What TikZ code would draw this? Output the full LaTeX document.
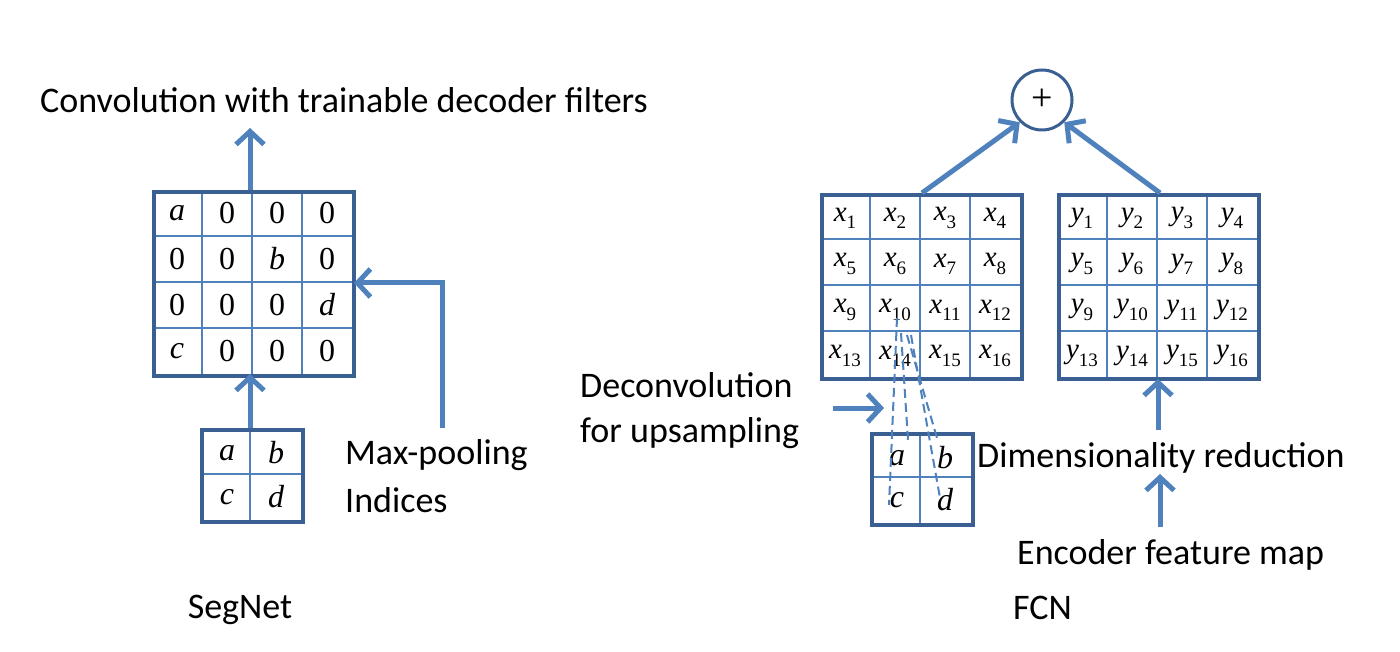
\documentclass[tikz,border=0pt]{standalone}
\usepackage{fontspec}
\setmainfont{Carlito}
\newfontfamily\cellf{Liberation Serif}
\usetikzlibrary{arrows.meta}
\definecolor{bord}{HTML}{3A5F93}
\definecolor{inner}{HTML}{4F81BD}
\newcommand{\vv}[1]{{\cellf\itshape #1}}
\newcommand{\zz}{{\cellf 0}}
\newcommand{\sv}[2]{{\cellf\itshape #1\raisebox{-0.25em}{\fontsize{19}{20}\selectfont\upshape #2}}}
\begin{document}
\begin{tikzpicture}[x=1pt,y=-1pt,
  lbl/.style={font=\fontsize{36}{38}\selectfont,inner sep=0pt},
  cell/.style={font=\fontsize{32}{34}\selectfont,inner sep=0pt},
  scell/.style={font=\fontsize{29}{30}\selectfont,inner sep=0pt},
  grid/.style={draw=bord,line width=4pt},
  thin/.style={draw=inner,line width=1.3pt},
  arr/.style={draw=inner,line width=5pt,-{Straight Barb[length=13pt,width=28pt,line width=5pt]}},
  dsh/.style={draw=inner,line width=2pt,dash pattern=on 9pt off 5pt}]
\useasboundingbox (0,0) rectangle (1400,652);
% SegNet big grid
\foreach \i in {1,2,3} {\draw[thin] (152+50*\i,190) -- (152+50*\i,374); \draw[thin] (152,190+46*\i) -- (352,190+46*\i);}
\node[grid,minimum width=200pt,minimum height=184pt,anchor=north west] (G) at (152,190) {};
\foreach \r/\row in {0/{\vv{a},\zz,\zz,\zz},1/{\zz,\zz,\vv{b},\zz},2/{\zz,\zz,\zz,\vv{d}},3/{\vv{c},\zz,\zz,\zz}} {
  \foreach \v [count=\c from 0] in \row {\node[cell] (g\r\c) at (177+50*\c,213+46*\r) {\v};}}
% SegNet small grid
\draw[thin] (250,428) -- (250,520); \draw[thin] (200,474) -- (301,474);
\node[grid,minimum width=101pt,minimum height=92pt,anchor=north west] (S) at (200,428) {};
\node[cell] (sa) at (227,453) {\vv{a}}; \node[cell] (sb) at (276,453) {\vv{b}};
\node[cell] (sc) at (227,497) {\vv{c}}; \node[cell] (sd) at (276,497) {\vv{d}};
\coordinate (gt) at (250,190);
\coordinate (gb) at (250,374);
\coordinate (st) at (250,428);
\coordinate (ct) at (250,128);
\draw[arr] (gt) -- (ct);
\draw[arr] (st) -- (gb);
\node[lbl,anchor=west] (conv) at (40,100) {Convolution with trainable decoder filters};
\node[lbl,anchor=west] (mp) at (345,455) {Max-pooling};
\node[lbl,anchor=west] (ind) at (345,500) {Indices};
\coordinate (mpb) at (442,428);
\draw[arr] (mpb) -- (442,283) -- (354,283);
\node[lbl] (seg) at (240,610) {SegNet};
% FCN grids
\foreach \i in {1,2,3} {\draw[thin] (820+50*\i,193) -- (820+50*\i,377); \draw[thin] (820,193+46*\i) -- (1020,193+46*\i);
  \draw[thin] (1057+50*\i,193) -- (1057+50*\i,377); \draw[thin] (1057,193+46*\i) -- (1257,193+46*\i);}
\node[grid,minimum width=200pt,minimum height=184pt,anchor=north west] (X) at (820,193) {};
\node[grid,minimum width=200pt,minimum height=184pt,anchor=north west] (Y) at (1057,193) {};
\foreach \n in {1,...,16} {
  \pgfmathtruncatemacro\r{(\n-1)/4}\pgfmathtruncatemacro\c{mod(\n-1,4)}
  \node[scell] (x\n) at (845+50*\c,218+46*\r) {\sv{x}{\n}};
  \node[scell] (y\n) at (1082+50*\c,218+46*\r) {\sv{y}{\n}};}
% FCN small grid
\draw[thin] (920,432) -- (920,523); \draw[thin] (870,477) -- (971,477);
\node[grid,minimum width=101pt,minimum height=91pt,anchor=north west] (F) at (870,432) {};
\node[cell] (fa) at (897,458) {\vv{a}}; \node[cell] (fb) at (945,458) {\vv{b}};
\node[cell] (fc) at (897,500) {\vv{c}}; \node[cell] (fd) at (945,500) {\vv{d}};
\coordinate (d0) at (897,318); \coordinate (d1) at (901,333); \coordinate (d2) at (907,335); \coordinate (d3) at (911,335);
\coordinate (e0) at (889,505); \coordinate (e1) at (908,440); \coordinate (e2) at (937,438); \coordinate (e3) at (940,498);
\draw[dsh] (d0) -- (e0); \draw[dsh] (d1) -- (e1); \draw[dsh] (d2) -- (e2); \draw[dsh] (d3) -- (e3);
% plus
\node[draw=bord,line width=3pt,circle,minimum size=60pt,inner sep=0pt,font=\fontsize{38}{38}\selectfont] (P) at (1042,100) {\cellf +};
\coordinate (xt) at (922,193); \coordinate (yt) at (1160,193);
\draw[arr] (xt) -- (P.-135);
\draw[arr] (yt) -- (P.-45);
\node[lbl,anchor=west] (dec1) at (580,385) {Deconvolution};
\node[lbl,anchor=west] (dec2) at (580,433) {for upsampling};
\coordinate (da) at (833,408); \coordinate (db) at (884,408);
\draw[arr] (da) -- (db);
\node[lbl,anchor=west] (dim) at (977,458) {Dimensionality reduction};
\coordinate (ra) at (1158,430); \coordinate (rb) at (1158,379);
\draw[arr] (ra) -- (rb);
\node[lbl,anchor=west] (enc) at (1017,555) {Encoder feature map};
\coordinate (ea) at (1160,527); \coordinate (eb) at (1160,474);
\draw[arr] (ea) -- (eb);
\node[lbl,anchor=west] (fcn) at (1013,608) {FCN};
\end{tikzpicture}
\end{document}
